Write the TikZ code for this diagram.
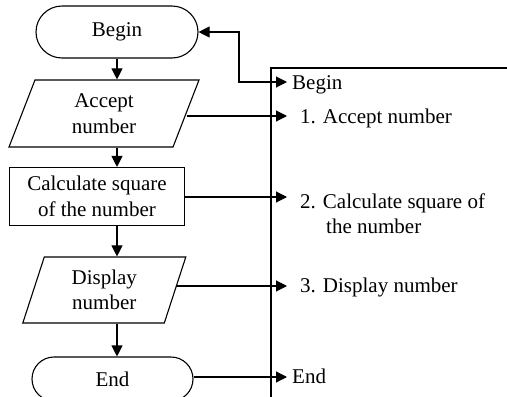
\documentclass[tikz,border=0pt]{standalone}
\usepackage{fontspec}
\setmainfont{Liberation Serif}
\usetikzlibrary{shapes.geometric,arrows.meta}
\begin{document}
\begin{tikzpicture}[x=1pt,y=-1pt,
  every node/.style={font=\fontsize{21}{25.5}\selectfont},
  base/.style={draw, line width=1.1pt, inner sep=2pt, align=center},
  termbox/.style={base, rectangle},
  iobox/.style={base, trapezium, trapezium stretches body=true},
  procbox/.style={base, rectangle},
  label/.style={inner sep=0pt, align=left},
  conn/.style={line width=1.1pt, -{Triangle[length=11pt,width=11pt]}},
  biconn/.style={line width=1.1pt, {Triangle[length=11pt,width=11pt]}-{Triangle[length=11pt,width=11pt]}},
  panel/.style={line width=1.1pt}
]
\useasboundingbox (0,0) rectangle (507,397);
\clip (0,0) rectangle (507,397);

% flowchart
\node[termbox, minimum width=162pt, minimum height=52pt, rounded corners=26pt] (begin) at (117,32) {Begin};
\node[iobox, trapezium left angle=59.2, trapezium right angle=120.8,
      minimum width=190pt, minimum height=67pt] (acc) at (104,113.5) {Accept\\number};
\node[procbox, minimum width=175pt, minimum height=58pt] (calc) at (97,196.5) {Calculate square\\of the number};
\node[iobox, trapezium left angle=64.1, trapezium right angle=115.9,
      minimum width=163pt, minimum height=66pt] (disp) at (104.3,290) {Display\\number};
\node[termbox, minimum width=161pt, minimum height=44pt, rounded corners=22pt] (end) at (112.5,379) {End};

\coordinate (ax) at (117,0);
\coordinate (jog) at (239,82);
\coordinate (ptop) at (271,68);

% right panel
\draw[panel] (271,420) -- (ptop) -- (530,68);

\node[label, anchor=base west] (tbegin) at (292,89) {Begin};
\node[label, anchor=base west] (t1) at (300,123) {1. Accept number};
\node[label, anchor=west] (t2) at (300,213.5) {2. Calculate square of\\\hspace*{26pt}the number};
\node[label, anchor=base west] (t3) at (300,292) {3. Display number};
\node[label, anchor=base west] (tend) at (292,383) {End};

% vertical connectors
\draw[conn] (begin.south) -- (ax |- acc.north);
\draw[conn] (ax |- acc.south) -- (ax |- calc.north);
\draw[conn] (ax |- calc.south) -- (ax |- disp.north);
\draw[conn] (ax |- disp.south) -- (ax |- end.north);

% horizontal connectors to the panel
\draw[biconn] (begin.east) -| (jog) -- (jog -| tbegin.west) [shorten >=5pt];
\draw[conn, shorten >=13pt] ([yshift=-2.5pt]acc.east) -- ([yshift=-2.5pt]acc.east -| t1.west);
\draw[conn, shorten >=13pt] ([yshift=-0.5pt]calc.east) -- ([yshift=-0.5pt]calc.east -| t2.west);
\draw[conn, shorten >=13pt] ([yshift=4pt]disp.east) -- ([yshift=4pt]disp.east -| t3.west);
\draw[conn, shorten >=5pt] ([yshift=2pt]end.east) -- ([yshift=2pt]end.east -| tend.west);
\end{tikzpicture}
\end{document}
